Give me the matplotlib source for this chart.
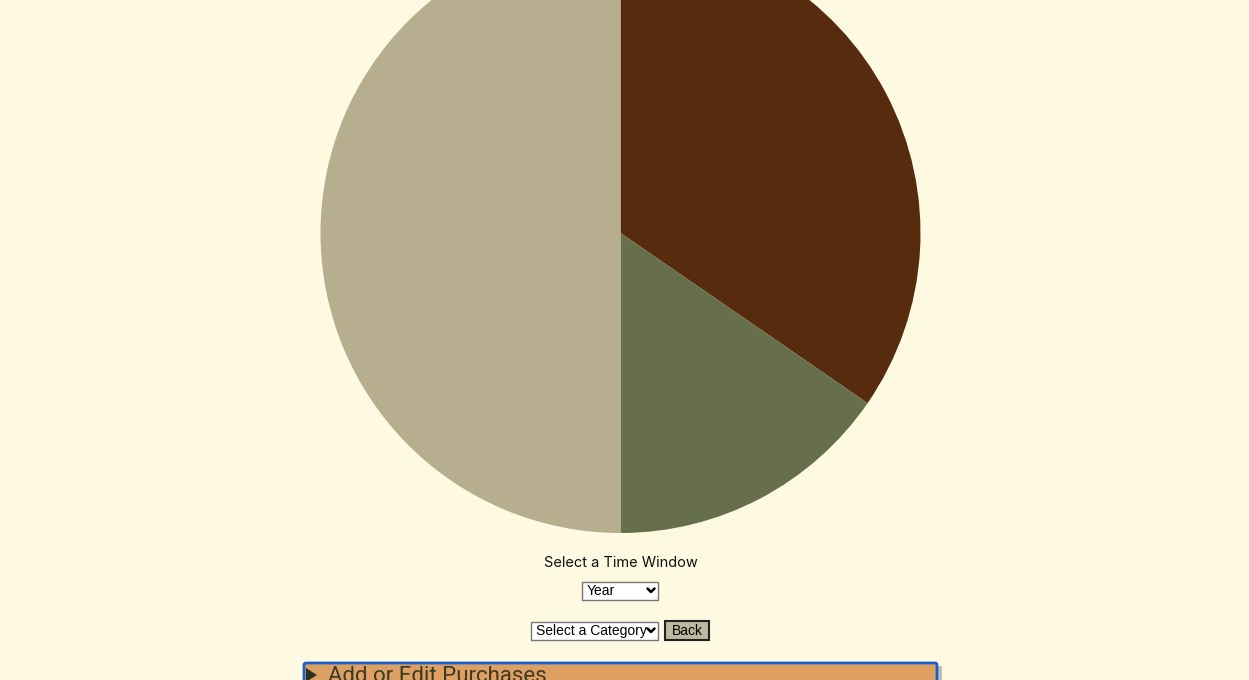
import matplotlib
matplotlib.use("Agg")
import matplotlib.pyplot as plt
from matplotlib.patches import Rectangle, FancyBboxPatch, Polygon

# pie data (share of spending per category)
categories = ["Category A", "Category B", "Category C"]
values = [34.6, 15.4, 50.0]
colors = ["#572C0E", "#676E4B", "#B7AD8F"]

bg = "#FEF9E1"
W, H = 1249, 680

fig = plt.figure(figsize=(W / 100, H / 100), dpi=100, facecolor=bg)

# pie axes, centre at (620, 233) px, radius 300 px; top runs off the page
cx, cy, r = 620.5, 233, 300
ax = fig.add_axes([(cx - r) / W, (H - cy - r) / H, 2 * r / W, 2 * r / H])
ax.pie(values, colors=colors, startangle=90, counterclock=False, radius=1,
       wedgeprops=dict(linewidth=0))
ax.set_xlim(-1, 1)
ax.set_ylim(-1, 1)
ax.set_aspect("auto")
ax.axis("off")

# page controls drawn in pixel coordinates
ui = fig.add_axes([0, 0, 1, 1], zorder=5)
ui.set_xlim(0, W)
ui.set_ylim(H, 0)
ui.axis("off")
ui.patch.set_alpha(0)

ui.text(620.5, 563, "Select a Time Window", ha="center", va="center",
        fontsize=10.5, family="Inter", color="#111111")


def chevron(x, y):
    ui.plot([x - 3.5, x, x + 3.5], [y - 2, y + 1.5, y - 2], color="black",
            linewidth=1.8, solid_capstyle="round", solid_joinstyle="round")


# Year select
ui.add_patch(Rectangle((582.5, 581.5), 76, 18, facecolor="white",
                       edgecolor="#767676", linewidth=1))
ui.text(587, 591, "Year", ha="left", va="center", fontsize=10,
        family="Liberation Sans", color="black")
chevron(651, 590.5)

# Category select
ui.add_patch(Rectangle((531.5, 621.5), 127, 18, facecolor="white",
                       edgecolor="#767676", linewidth=1))
ui.text(536, 631, "Select a Category", ha="left", va="center", fontsize=10,
        family="Liberation Sans", color="black")
chevron(651, 630.5)

# Back button
ui.add_patch(Rectangle((665, 621), 44, 19, facecolor="#B9BA9E",
                       edgecolor="#222222", linewidth=1.5))
ui.text(687, 631, "Back", ha="center", va="center", fontsize=10,
        family="Liberation Sans", color="black")

# Add or Edit Purchases panel
ui.add_patch(Rectangle((306, 666), 636, 30, facecolor="#999999",
                       edgecolor="none", alpha=0.6))
ui.add_patch(FancyBboxPatch((304, 663), 633, 30,
                            boxstyle="round,pad=0,rounding_size=2",
                            facecolor="#DDA062", edgecolor="#1A5FD0", linewidth=2))
ui.add_patch(Polygon([[306, 668], [306, 682], [317, 675]], closed=True,
                     facecolor="#2E3320", edgecolor="none"))
ui.text(328, 677, "Add or Edit Purchases", ha="left", va="center",
        fontsize=16, family="Roboto", color="#3A3A26")

fig.savefig("out.png", dpi=100, facecolor=bg)
